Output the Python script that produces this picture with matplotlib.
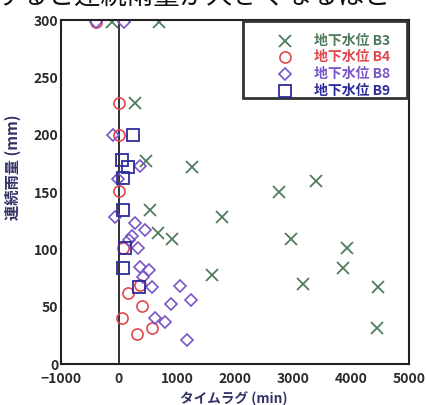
import matplotlib
matplotlib.use("Agg")
import matplotlib.pyplot as plt
from matplotlib.patches import Rectangle

plt.rcParams['font.family'] = ['Noto Sans CJK JP', 'DejaVu Sans']

# time lag (min) vs continuous rainfall (mm)
b3_x = [-120, 690, 275, 465, 1260, 530, 670, 910, 1780, 2760, 3400, 2970, 3930, 3860, 1600, 3170, 4460, 4440]
b3_y = [298, 298, 228, 177, 172, 134, 114, 109, 128, 150, 160, 109, 101, 84, 78, 70, 67, 31]

b4_x = [-400, 0, 0, 0, 70, 360, 155, 395, 50, 565, 310]
b4_y = [298, 228, 200, 151, 101, 69, 62, 51, 40, 31, 26]

b8_x = [-400, 80, -100, 360, -17, -70, 275, 445, 220, 170, 330, 360, 515, 410, 565, 1060, 890, 1240, 620, 790, 1170]
b8_y = [298, 298, 200, 173, 161, 128, 123, 117, 112, 108, 101, 85, 82, 76, 67, 68, 52, 56, 40, 37, 21]

b9_x = [240, 50, 155, 70, 70, 100, 70, 340]
b9_y = [200, 178, 172, 162, 134, 101, 84, 67]

labels = ['地下水位 B3', '地下水位 B4', '地下水位 B8', '地下水位 B9']
colors = ['#4f7d5c', '#e0484c', '#7a55c8', '#2c2c9c']
styles = [dict(marker='x', ms=9, mew=1.3),
          dict(marker='o', ms=8, mew=1.2, mfc='none'),
          dict(marker='D', ms=6.5, mew=1.2, mfc='none'),
          dict(marker='s', ms=8, mew=1.3, mfc='none')]

fig = plt.figure(figsize=(4.27, 4.05), dpi=100)
ax = fig.add_axes([61/427, 41/405, 348/427, 344/405])

for xs, ys, c, st in zip([b3_x, b4_x, b8_x, b9_x], [b3_y, b4_y, b8_y, b9_y], colors, styles):
    ax.plot(xs, ys, ls='none', color=c, **st)

ax.axvline(0, color='#222222', lw=1.3, zorder=0)

ax.set_xlim(-1000, 5000)
ax.set_ylim(0, 300)
ax.set_xticks(range(-1000, 5001, 1000))
ax.set_yticks(range(0, 301, 50))
ax.tick_params(length=0, labelsize=10, colors='#2a2a2a')
ax.tick_params(axis='x', pad=6)
ax.tick_params(axis='y', pad=2)
for lab in ax.get_xticklabels() + ax.get_yticklabels():
    lab.set_fontweight('bold')
for s in ax.spines.values():
    s.set_linewidth(1.5)
    s.set_color('#222222')

# legend box drawn by hand to match its wide layout
ax.add_patch(Rectangle((0.523, 0.773), 0.471, 0.224, transform=ax.transAxes,
                       facecolor='white', edgecolor='#333333', lw=2, zorder=3))
row_y = [0.939, 0.893, 0.843, 0.794]
for lab, c, st, ry in zip(labels, colors, styles, row_y):
    ax.plot([0.644], [ry], ls='none', color=c, transform=ax.transAxes,
            clip_on=False, zorder=4, **st)
    ax.text(0.727, ry, lab, transform=ax.transAxes, ha='left', va='center',
            fontsize=10, color=c, fontweight='bold', zorder=4)

fig.text(0.548, 1 - 399/405, 'タイムラグ (min)', ha='center', va='center',
         fontsize=9.8, color='#333366', fontweight='bold')
fig.text(13/427, 1 - 167/405, '連続雨量 (mm)', ha='center', va='center',
         rotation=90, fontsize=11, color='#333366', fontweight='bold')

# cropped line of body text at the very top of the page
fig.text(-0.01, 1 - 10/405, 'すると連続雨量が大きくなるほど', ha='left', va='bottom',
         fontsize=19, color='#111111')

fig.savefig('out.png', dpi=100)
